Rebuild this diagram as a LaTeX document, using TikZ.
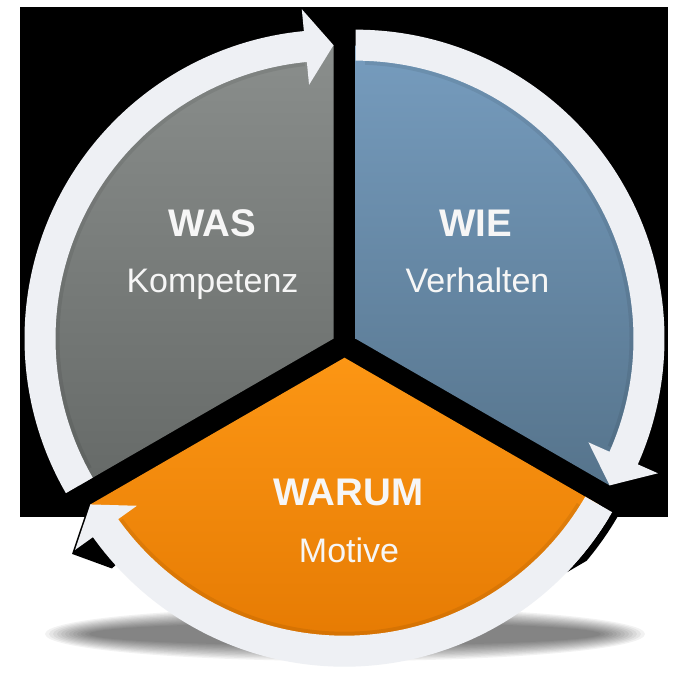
\documentclass[tikz,border=0pt]{standalone}
\usepackage{fontspec}
\setmainfont{Liberation Sans}
\begin{document}
\begin{tikzpicture}[x=1pt,y=1pt]
\definecolor{grayT}{RGB}{138,142,140}
\definecolor{grayB}{RGB}{102,106,104}
\definecolor{blueT}{RGB}{118,156,190}
\definecolor{blueB}{RGB}{86,116,140}
\definecolor{orT}{RGB}{252,150,20}
\definecolor{orB}{RGB}{226,118,0}
\definecolor{ringc}{RGB}{238,240,244}
\definecolor{txt}{RGB}{246,246,246}
\tikzset{
  title/.style={font=\fontsize{38.5}{40}\selectfont\bfseries, text=txt, anchor=base, inner sep=0pt},
  sub/.style={font=\fontsize{34}{36}\selectfont, text=txt, anchor=base, inner sep=0pt},
  ringseg/.style={fill=ringc},
  edgeshade/.style={draw=black, draw opacity=0.07, line width=4pt}
}
\def\Ro{309}
\def\Ri{278}
\def\Rm{293.5}
\def\Rbo{331}
\def\Rbi{255}
\useasboundingbox (0,0) rectangle (687,675);
\fill[white] (0,0) rectangle (687,675);
% soft shadow under the disc
\foreach \i in {0,...,11}{
  \fill[black, opacity=0.05] (345,41) ellipse [x radius={300-4*\i}, y radius={27-1.4*\i}];
}
% black backdrop
\fill[black] (20,158) rectangle (668,668);
\coordinate (Cg) at (333.5,336.35);
\coordinate (Cb) at (355.5,336.35);
\coordinate (Co) at (344.5,317.3);
% dark artefacts at the orange ring ends
\begin{scope}[shift={(Co)}]
  \fill[black] (-30:\Ro) -- (-30:316) arc[start angle=-30, end angle=-40, radius=316]
     -- (-44:\Ro) arc[start angle=-44, end angle=-30, radius=\Ro] -- cycle;
  \fill[black] ([shift={(-3,-4)}]215.5:\Rbo) -- ([shift={(-3,-4)}]210:\Rm) -- ([shift={(-3,-4)}]215.5:\Rbi)
     -- ([shift={(-3,-4)}]222:\Ri) -- ([shift={(-3,-4)}]222:\Ro) -- cycle;
\end{scope}
% sectors
\begin{scope}[shift={(Cg)}]
  \shade[top color=grayT, bottom color=grayB] (0,0) -- (210:\Rm) arc[start angle=210, end angle=90, radius=\Rm] -- cycle;
\end{scope}
\begin{scope}[shift={(Cb)}]
  \shade[top color=blueT, bottom color=blueB] (0,0) -- (90:\Rm) arc[start angle=90, end angle=-30, radius=\Rm] -- cycle;
\end{scope}
\begin{scope}[shift={(Co)}]
  \shade[top color=orT, bottom color=orB] (0,0) -- (-30:\Rm) arc[start angle=-30, end angle=-150, radius=\Rm] -- cycle;
\end{scope}
% ring segments with arrow heads
\begin{scope}[shift={(Cg)}]
  \draw[edgeshade] (208:{\Ri-2}) arc[start angle=208, end angle=96, radius={\Ri-2}];
  \fill[ringseg] (210:\Ro) arc[start angle=210, end angle=95.5, radius=\Ro] -- (95.5:\Rbo) -- (90:\Rm)
     -- (95.5:\Rbi) -- (95.5:\Ri) arc[start angle=95.5, end angle=210, radius=\Ri] -- cycle;
\end{scope}
\begin{scope}[shift={(Cb)}]
  \draw[edgeshade] (88:{\Ri-2}) arc[start angle=88, end angle=-23, radius={\Ri-2}];
  \fill[ringseg] (90:\Ro) arc[start angle=90, end angle=-24, radius=\Ro] -- (-24:\Rbo) -- (-30:\Rm)
     -- (-24:\Rbi) -- (-24:\Ri) arc[start angle=-24, end angle=90, radius=\Ri] -- cycle;
\end{scope}
\begin{scope}[shift={(Co)}]
  \draw[edgeshade] (-32:{\Ri-2}) arc[start angle=-32, end angle=-144, radius={\Ri-2}];
  \fill[ringseg] (-30:\Ro) arc[start angle=-30, end angle=-144.5, radius=\Ro] -- (215.5:\Rbo) -- (210:\Rm)
     -- (215.5:\Rbi) -- (215.5:\Ri) arc[start angle=-144.5, end angle=-30, radius=\Ri] -- cycle;
\end{scope}
% labels
\node[title] (was) at (212,438) {WAS};
\node[sub] (kompetenz) at (212.5,382) {Kompetenz};
\node[title] (wie) at (475.5,438) {WIE};
\node[sub] (verhalten) at (477.5,382) {Verhalten};
\node[title] (warum) at (348.5,170) {WARUM};
\node[sub] (motive) at (349,113) {Motive};
\end{tikzpicture}
\end{document}
